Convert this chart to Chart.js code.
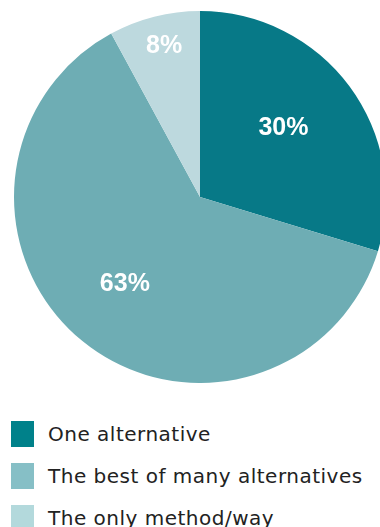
<!DOCTYPE html>
<html lang="en">
<head>
  <meta charset="UTF-8" />
  <title>Pie</title>
  <script src="https://cdn.jsdelivr.net/npm/chart.js"></script>
  <style>
    html, body {
      margin: 0;
      padding: 0;
      width: 380px;
      height: 527px;
      overflow: hidden;
      background: #fff;
    }
    .pie-wrap {
      position: absolute;
      left: 0;
      top: 11px;
      width: 400px;
      height: 372px;
    }
    .legend {
      position: absolute;
      left: 11px;
      top: 421px;
      font-family: 'DejaVu Sans', sans-serif;
      font-size: 20px;
      letter-spacing: 0.5px;
      color: #222;
    }
    .legend-item {
      display: flex;
      align-items: center;
      height: 26px;
      margin-bottom: 16px;
      white-space: nowrap;
    }
    .legend-item span.box {
      width: 23px;
      height: 26px;
      margin-right: 14px;
      flex: none;
    }
  </style>
</head>
<body>
  <div class="pie-wrap"><canvas id="pieChart"></canvas></div>
  <div class="legend" id="legend"></div>

  <script>
  const labels = ['One alternative', 'The best of many alternatives', 'The only method/way'];
  const values = [30, 63, 8];
  const sliceColors = ['#077987', '#6eadb4', '#bdd9de'];
  const legendColors = ['#00818a', '#86bfc6', '#b3d9dc'];
  // label placement: fraction of radius, and small angle nudge in degrees
  const labelDist = [0.586, 0.613, 0.84];
  const labelNudge = [-3.5, 2, 1];

  const sliceLabels = {
    id: 'sliceLabels',
    afterDatasetsDraw(chart) {
      const { ctx } = chart;
      const meta = chart.getDatasetMeta(0);
      ctx.save();
      ctx.fillStyle = '#fff';
      ctx.font = 'bold 25px "Liberation Sans", Arial, sans-serif';
      ctx.textAlign = 'center';
      ctx.textBaseline = 'middle';
      meta.data.forEach((arc, i) => {
        const p = arc.getProps(['x', 'y', 'startAngle', 'endAngle', 'outerRadius'], true);
        const mid = (p.startAngle + p.endAngle) / 2 + labelNudge[i] * Math.PI / 180;
        const r = p.outerRadius * labelDist[i];
        ctx.fillText(values[i] + '%', p.x + Math.cos(mid) * r, p.y + Math.sin(mid) * r + 1);
      });
      ctx.restore();
    }
  };

  new Chart(document.getElementById('pieChart'), {
    type: 'pie',
    data: {
      labels,
      datasets: [{
        data: values,
        backgroundColor: sliceColors,
        borderWidth: 0
      }]
    },
    options: {
      responsive: true,
      maintainAspectRatio: false,
      animation: false,
      layout: { padding: 0 },
      plugins: {
        legend: { display: false },
        tooltip: { enabled: false }
      }
    },
    plugins: [sliceLabels]
  });

  // legend below the pie
  const legend = document.getElementById('legend');
  labels.forEach((label, i) => {
    const item = document.createElement('div');
    item.className = 'legend-item';
    item.innerHTML = `<span class="box" style="background:${legendColors[i]}"></span>${label}`;
    legend.appendChild(item);
  });
</script>
</body>
</html>
